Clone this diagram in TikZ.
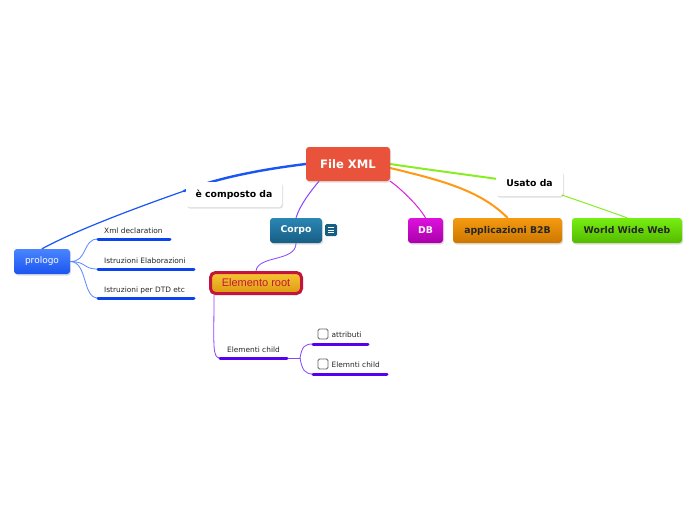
\documentclass[tikz,border=0pt]{standalone}
\usepackage{fontspec}
\setmainfont{DejaVu Sans}
\newfontfamily\arialf{Liberation Sans}
\usetikzlibrary{shadows}
\pgfdeclarelayer{bg}
\pgfdeclarelayer{lines}
\pgfsetlayers{bg,lines,main}
\definecolor{xmlred}{HTML}{E9533C}
\definecolor{corpoT}{HTML}{2A86B5}
\definecolor{corpoB}{HTML}{175E84}
\definecolor{dbT}{HTML}{DD11DD}
\definecolor{dbB}{HTML}{AA00AA}
\definecolor{b2bT}{HTML}{F59A10}
\definecolor{b2bB}{HTML}{CC7700}
\definecolor{wwwT}{HTML}{77EE11}
\definecolor{wwwB}{HTML}{55BB00}
\definecolor{proT}{HTML}{4A85FF}
\definecolor{proB}{HTML}{1A55F0}
\definecolor{rootT}{HTML}{F7C534}
\definecolor{rootB}{HTML}{DD9A12}
\definecolor{rootE}{HTML}{C4143C}
\definecolor{bluel}{HTML}{1A55F5}
\definecolor{bluelt}{HTML}{5588FF}
\definecolor{blueu}{HTML}{0A44EE}
\definecolor{purl}{HTML}{8844FF}
\definecolor{puru}{HTML}{5500EE}
\definecolor{magl}{HTML}{DD22DD}
\definecolor{orl}{HTML}{FF9911}
\definecolor{grl}{HTML}{88EE22}
\begin{document}
\begin{tikzpicture}[x=1pt,y=-1pt,
  topic/.style={rounded corners=3pt, minimum height=25pt, inner sep=0pt,
    font=\bfseries\fontsize{9.3}{11}\selectfont,
    drop shadow={shadow xshift=1pt,shadow yshift=-1.5pt,opacity=0.25}},
  item/.style={anchor=base west, inner sep=0pt, font=\fontsize{7.4}{9}\selectfont, text=black!85},
  uline/.style={line width=3pt, line cap=round},
  conn/.style={line cap=round}]
\begin{pgfonlayer}{bg}
\fill[white] (0,0) rectangle (696,520);
\end{pgfonlayer}
\useasboundingbox (0,0) rectangle (696,520);

% main topics
\node[topic, fill=xmlred, text=white, minimum width=84pt, minimum height=34pt,
  font=\bfseries\fontsize{11.6}{13}\selectfont] (file) at (348,164) {File XML};
\node[topic, fill=white, minimum width=96pt] (comp) at (234,194.5) {è composto da};
\node[topic, top color=corpoT, bottom color=corpoB, text=white, minimum width=52pt] (corpo) at (296,230.5) {Corpo};
\node[topic, top color=dbT, bottom color=dbB, text=white, minimum width=35pt] (db) at (425.5,230.5) {DB};
\node[topic, top color=b2bT, bottom color=b2bB, text=black!85, minimum width=109pt] (b2b) at (507.5,230.5) {applicazioni B2B};
\node[topic, top color=wwwT, bottom color=wwwB, text=black!85, minimum width=110pt] (www) at (627,230.5) {World Wide Web};
\node[topic, fill=white, minimum width=67pt] (usato) at (529.5,183.5) {Usato da};
\node[topic, top color=proT, bottom color=proB, text=white, minimum width=56pt,
  font=\fontsize{9}{11}\selectfont] (prologo) at (42,261.5) {prologo};
\node[rounded corners=5pt, draw=rootE, line width=3pt, top color=rootT, bottom color=rootB,
  minimum width=91pt, minimum height=21pt, inner sep=0pt,
  font=\arialf\fontsize{11}{13}\selectfont, text=rootE] (root) at (256,283) {Elemento root};

% note icon
\node[fill=corpoB, rounded corners=1.5pt, minimum width=12pt, minimum height=12pt, inner sep=0pt] (note) at (331,230) {};
\foreach \yy in {-2.5,0,2.5} \draw[white, line width=0.8pt] ([xshift=-3pt,yshift=\yy pt]note.center) -- ([xshift=3pt,yshift=\yy pt]note.center);

% sub items prologo
\node[item] (xmld) at (104,233) {Xml declaration};
\node[item] (elab) at (104,263) {Istruzioni Elaborazioni};
\node[item] (dtd) at (104,292) {Istruzioni per DTD etc};
\coordinate (xmlL) at (98,239); \coordinate (xmlR) at (170,239);
\coordinate (elabL) at (98,269); \coordinate (elabR) at (194,269);
\coordinate (dtdL) at (98,298); \coordinate (dtdR) at (194,298);
\draw[uline, blueu] (xmlL) -- (xmlR);
\draw[uline, blueu] (elabL) -- (elabR);
\draw[uline, blueu] (dtdL) -- (dtdR);

% elementi child
\node[item] (echild) at (227,352) {Elementi child};
\coordinate (ecL) at (220,358); \coordinate (ecR) at (287,358);
\draw[uline, puru] (ecL) -- (ecR);
\coordinate (ecJ) at (300,358);
\node[draw=black!60, fill=white, rounded corners=1.5pt, minimum size=10pt, inner sep=0pt, line width=0.8pt] (cb1) at (323,334) {};
\node[draw=black!60, fill=white, rounded corners=1.5pt, minimum size=10pt, inner sep=0pt, line width=0.8pt] (cb2) at (323,364) {};
\node[item] (attr) at (331.5,337) {attributi};
\node[item] (elch) at (331.5,367) {Elemnti child};
\coordinate (atL) at (313,344); \coordinate (atR) at (368,344);
\coordinate (elL) at (313,374); \coordinate (elR) at (387,374);
\draw[uline, puru] (atL) -- (atR);
\draw[uline, puru] (elL) -- (elR);

% connectors
\coordinate (compX) at (184,191);
\begin{pgfonlayer}{lines}
\draw[conn, bluel, line width=2.4pt] (file.west) .. controls (265,169) and (220,177) .. (compX);
\draw[conn, bluel, line width=1.2pt] (compX) .. controls (150,203) and (80,228) .. (prologo.north);
\draw[conn, grl, line width=2pt] (file.east) .. controls (430,170) and (470,175) .. (usato.center);
\draw[conn, grl, line width=1pt] (usato.center) .. controls (570,198) and (600,208) .. (www.north);
\draw[conn, orl, line width=2pt] ([yshift=-4pt]file.east) .. controls (440,180) and (480,190) .. (b2b.north);
\draw[conn, magl, line width=1pt] (file.south east) .. controls (400,188) and (418,205) .. (db.north);
\draw[conn, purl, line width=1pt] ([xshift=-29pt]file.south) .. controls (310,192) and (300,205) .. (corpo.north);
\draw[conn, purl, line width=0.8pt] (corpo.south) .. controls (296,262) and (258,255) .. (root.north);
\draw[conn, purl, line width=0.8pt] ([xshift=-42pt]root.south) .. controls (214,345) and (212,358) .. (ecL);
\draw[conn, purl, line width=0.8pt] (ecR) -- (ecJ);
\draw[conn, purl, line width=0.8pt] (ecJ) .. controls (302,346) and (305,344) .. (atL);
\draw[conn, purl, line width=0.8pt] (ecJ) .. controls (302,370) and (305,374) .. (elL);
\draw[conn, bluelt, line width=0.8pt] (prologo.east) .. controls (88,262) and (82,239) .. (xmlL);
\draw[conn, bluelt, line width=0.8pt] (prologo.east) .. controls (88,262) and (82,269) .. (elabL);
\draw[conn, bluelt, line width=0.8pt] (prologo.east) .. controls (88,262) and (82,298) .. (dtdL);
\end{pgfonlayer}
\end{tikzpicture}
\end{document}
